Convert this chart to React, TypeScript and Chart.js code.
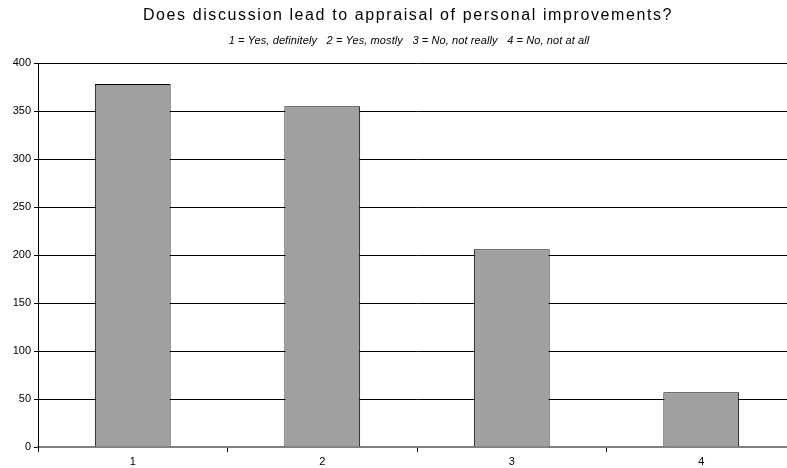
import React, { useEffect, useRef } from "react";
import { Chart, registerables } from "chart.js";

Chart.register(...registerables);

const categories = ["1", "2", "3", "4"];
const counts = [378, 355, 206, 57];
const yTicks = [0, 50, 100, 150, 200, 250, 300, 350, 400];
const titleText = "Does discussion lead to appraisal of personal improvements?";
const subtitleText = "1 = Yes, definitely   2 = Yes, mostly   3 = No, not really   4 = No, not at all";

const titlePlugin = {
  id: "customTitle",
  afterDraw(chart: any) {
    const { ctx } = chart;
    const cx = 408;
    ctx.save();
    ctx.fillStyle = "#000";
    ctx.textAlign = "center";
    ctx.textBaseline = "middle";
    ctx.font = "16px 'Liberation Sans', Arial, sans-serif";
    (ctx as any).letterSpacing = "1.6px";
    ctx.fillText(titleText, cx, 16);
    ctx.font = "italic 11px 'Liberation Sans', Arial, sans-serif";
    (ctx as any).letterSpacing = "0.1px";
    ctx.fillText(subtitleText, cx + 1, 41);
    ctx.restore();
  },
};

export default function App() {
  const ref = useRef<HTMLCanvasElement>(null);
  useEffect(() => {
    if (!ref.current) return;
    const chart = new Chart(ref.current, {
      type: "bar",
      data: {
        labels: categories,
        datasets: [
          {
            data: counts,
            backgroundColor: "#a0a0a0",
            borderColor: "#000",
            borderWidth: 1,
            categoryPercentage: 1,
            barPercentage: 0.4,
          },
        ],
      },
      options: {
        animation: false,
        responsive: false,
        devicePixelRatio: 1,
        layout: { padding: { top: 63, right: 0, left: 0, bottom: 0 } },
        plugins: { legend: { display: false }, tooltip: { enabled: false } },
        scales: {
          x: {
            offset: true,
            grid: { offset: true, drawOnChartArea: false, tickLength: 5, color: "#000" },
            border: { color: "#808080", width: 2 },
            ticks: { color: "#000", font: { size: 11, family: "'Liberation Sans', Arial, sans-serif" }, padding: 3 },
            afterFit: (s: any) => { s.height = 21; },
          },
          y: {
            min: 0,
            max: 400,
            afterBuildTicks: (s: any) => { s.ticks = yTicks.map((v) => ({ value: v })); },
            grid: { color: "#000", tickLength: 4 },
            border: { color: "#000", width: 1 },
            ticks: { color: "#000", font: { size: 11, family: "'Liberation Sans', Arial, sans-serif" }, padding: 3 },
            afterFit: (s: any) => { s.width = 38; },
          },
        },
      },
      plugins: [titlePlugin],
    });
    return () => chart.destroy();
  }, []);
  return (
    <div style={{ position: "absolute", left: 0, top: 0, width: 787, height: 468, overflow: "hidden", background: "#fff" }}>
      <canvas ref={ref} width={796} height={468} style={{ display: "block" }} />
    </div>
  );
}
